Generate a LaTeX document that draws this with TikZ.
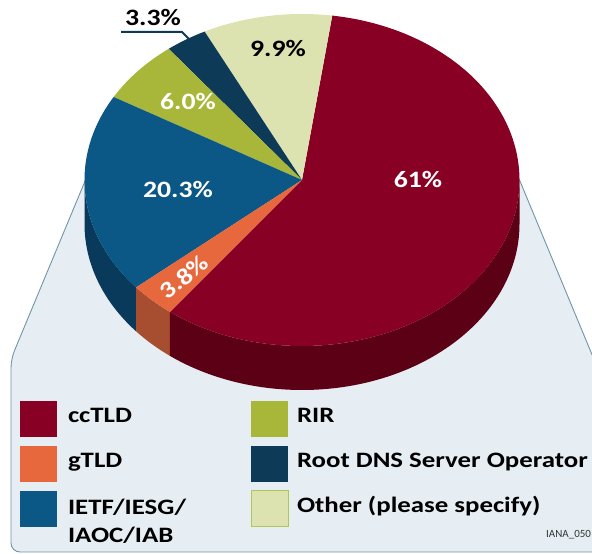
\documentclass[tikz,border=0pt]{standalone}
\usepackage{fontspec}
\setmainfont{Carlito}
\newfontfamily\pctfont{Carlito}[FakeStretch=1.18]
\newfontfamily\legfont{Carlito}[FakeStretch=1.22]
\usetikzlibrary{calc}
\definecolor{ccTop}{RGB}{136,0,36}
\definecolor{ccSide}{RGB}{92,0,22}
\definecolor{gTop}{RGB}{232,104,62}
\definecolor{gSide}{RGB}{168,78,48}
\definecolor{ieTop}{RGB}{11,87,133}
\definecolor{ieSide}{RGB}{9,58,92}
\definecolor{rirTop}{RGB}{168,183,58}
\definecolor{rootTop}{RGB}{12,58,87}
\definecolor{othTop}{RGB}{221,227,176}
\definecolor{othEdge}{RGB}{176,198,88}
\definecolor{panelFill}{RGB}{231,238,243}
\definecolor{panelLine}{RGB}{112,148,170}
\tikzset{
  piearc/.style={x radius=217.5pt, y radius=166pt},
  pct/.style={font=\pctfont\fontsize{23.5}{28}\selectfont\bfseries, text=white},
  legtext/.style={font=\legfont\fontsize{22}{28}\selectfont\bfseries, text=black, anchor=base west, align=left},
  swatch/.style={minimum width=37pt, minimum height=36pt, anchor=south west}
}
\begin{document}
\begin{tikzpicture}[x=1pt,y=1pt, every node/.style={inner sep=0pt, outer sep=0pt}]
\useasboundingbox (0,0) rectangle (592,554);
\fill[white] (0,0) rectangle (592,554);
% legend panel
\fill[panelFill, rounded corners=9pt] (88,380) -- (11,195) -- (11,2) -- (620,2) -- (620,132) -- (517,380) -- cycle;
\draw[panelLine, line width=0.9pt, rounded corners=9pt] (88,380) -- (11,195) -- (11,2) -- (620,2) -- (620,132) -- (517,380);
% pie centre
\coordinate (C) at (302,374);
% sides
\fill[ieSide] ($(C)+(180:217.5pt and 166pt)$) arc[start angle=180, end angle=220.3, piearc] -- ++(0,-44) arc[start angle=220.3, end angle=180, piearc] -- cycle;
\fill[gSide] ($(C)+(220.3:217.5pt and 166pt)$) arc[start angle=220.3, end angle=232.6, piearc] -- ++(0,-44) arc[start angle=232.6, end angle=220.3, piearc] -- cycle;
\fill[ccSide] ($(C)+(232.6:217.5pt and 166pt)$) arc[start angle=232.6, end angle=360, piearc] -- ++(0,-44) arc[start angle=360, end angle=232.6, piearc] -- cycle;
% top faces
\fill[ccTop] (C) -- ($(C)+(232.6:217.5pt and 166pt)$) arc[start angle=232.6, end angle=442, piearc] -- cycle;
\fill[othTop] (C) -- ($(C)+(82:217.5pt and 166pt)$) arc[start angle=82, end angle=116.6, piearc] -- cycle;
\fill[rootTop] (C) -- ($(C)+(116.6:217.5pt and 166pt)$) arc[start angle=116.6, end angle=127.8, piearc] -- cycle;
\fill[rirTop] (C) -- ($(C)+(127.8:217.5pt and 166pt)$) arc[start angle=127.8, end angle=150, piearc] -- cycle;
\fill[ieTop] (C) -- ($(C)+(150:217.5pt and 166pt)$) arc[start angle=150, end angle=220.3, piearc] -- cycle;
\fill[gTop] (C) -- ($(C)+(220.3:217.5pt and 166pt)$) arc[start angle=220.3, end angle=232.6, piearc] -- cycle;
% percentages
\node[pct] (p61) at (418,374) {61\%};
\node[pct] (p203) at (178,364) {20.3\%};
\node[pct] (p60) at (188,452) {6.0\%};
\node[pct, text=black] (p99) at (278,505) {9.9\%};
\node[pct, text=black] (p33) at (153,536) {3.3\%};
\node[pct, rotate=39] (p38) at (184,277) {3.8\%};
% leader for 3.3%
\coordinate (l33a) at (121,522);
\coordinate (l33k) at (182,522);
\coordinate (l33b) at (190,514);
\draw[rootTop, line width=2pt] (l33a) -- (l33k) -- (l33b);
% legend swatches
\node[swatch, fill=ccTop] (s1) at (20,117) {};
\node[swatch, fill=gTop] (s2) at (20,72) {};
\node[swatch, fill=ieTop] (s3) at (20,27) {};
\node[swatch, fill=rirTop] (s4) at (251,117) {};
\node[swatch, fill=rootTop] (s5) at (251,72) {};
\node[swatch, fill=othTop, draw=othEdge, line width=1pt] (s6) at (251,27) {};
% legend text
\node[legtext] (t1) at (68,131) {ccTLD};
\node[legtext] (t2) at (68,86) {gTLD};
\node[legtext] (t3) at (68,11) {IETF/IESG/\\IAOC/IAB};
\node[legtext] (t4) at (297,131) {RIR};
\node[legtext] (t5) at (297,86) {Root DNS Server Operator};
\node[legtext] (t6) at (297,41) {Other (please specify)};
\node[font=\fontsize{11}{13}\selectfont, text=black!80, anchor=base east] (id) at (591,16) {IANA\_050};
\end{tikzpicture}
\end{document}
